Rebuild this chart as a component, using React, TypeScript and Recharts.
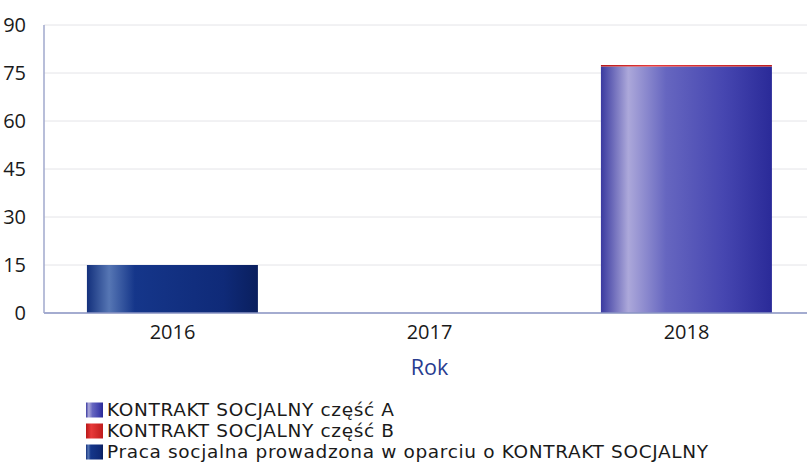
import React from "react";
import { BarChart, Bar, XAxis, YAxis, CartesianGrid, Legend } from "recharts";

const categories = ["2016", "2017", "2018"];
const kontraktA = [0, 0, 77];
const kontraktB = [0, 0, 0.5];
const praca = [15, 0, 0];
const yTicks = [0, 15, 30, 45, 60, 75, 90];

const seriesNames = [
  "KONTRAKT SOCJALNY część A",
  "KONTRAKT SOCJALNY część B",
  "Praca socjalna prowadzona w oparciu o KONTRAKT SOCJALNY",
];
const legendFills = ["url(#gradA)", "url(#gradB)", "url(#gradP)"];

const data = categories.map((c, i) => ({
  year: c,
  a: kontraktA[i],
  b: kontraktB[i],
  p: praca[i],
}));

const FONT = "'Open Sans', 'DejaVu Sans', sans-serif";
const LEGEND_FONT = "'DejaVu Sans', 'Open Sans', sans-serif";

const LegendContent = () => (
  <div style={{ fontFamily: LEGEND_FONT, fontSize: 18.5, letterSpacing: 0.65, color: "#1a1a1a", lineHeight: "21px", height: 67 }}>
    {seriesNames.map((n, i) => (
      <div key={n} style={{ display: "flex", alignItems: "center", height: 21, whiteSpace: "nowrap" }}>
        <svg width={17} height={16} style={{ marginRight: 4, flex: "none" }}>
          <rect x={0} y={0.5} width={17} height={15} fill={legendFills[i]} />
        </svg>
        <span>{n}</span>
      </div>
    ))}
  </div>
);

export default function App() {
  return (
    <div style={{ position: "absolute", left: 0, top: 0, width: 807, height: 466, background: "#fff", overflow: "hidden" }}>
      <BarChart
        width={815}
        height={466}
        data={data}
        margin={{ top: 25, right: 0, left: 0, bottom: 0 }}
        barCategoryGap="16.7%"
      >
        <defs>
          <linearGradient id="gradA" x1="0" y1="0" x2="1" y2="0">
            <stop offset="0%" stopColor="#3a3aa0" />
            <stop offset="16%" stopColor="#aca8da" />
            <stop offset="38%" stopColor="#6666c0" />
            <stop offset="72%" stopColor="#4646b0" />
            <stop offset="100%" stopColor="#2a2a98" />
          </linearGradient>
          <linearGradient id="gradB" x1="0" y1="0" x2="1" y2="0">
            <stop offset="0%" stopColor="#b81818" />
            <stop offset="30%" stopColor="#e83a3a" />
            <stop offset="100%" stopColor="#c01c1c" />
          </linearGradient>
          <linearGradient id="gradP" x1="0" y1="0" x2="1" y2="0">
            <stop offset="0%" stopColor="#13307c" />
            <stop offset="13%" stopColor="#5676b4" />
            <stop offset="28%" stopColor="#15368a" />
            <stop offset="80%" stopColor="#0f2a78" />
            <stop offset="100%" stopColor="#0a1f5e" />
          </linearGradient>
        </defs>
        <CartesianGrid vertical={false} stroke="#e4e4e8" />
        <XAxis
          dataKey="year"
          height={86}
          axisLine={{ stroke: "#8a94c4", strokeWidth: 1.5 }}
          tickLine={false}
          tick={{ fill: "#1a1a1a", fontSize: 20, fontFamily: FONT }}
          tickMargin={6}
          label={{ value: "Rok", position: "insideTop", offset: 47, fill: "#283c8f", fontSize: 21.5, fontFamily: FONT }}
        />
        <YAxis
          width={44}
          domain={[0, 90]}
          ticks={yTicks}
          interval={0}
          axisLine={{ stroke: "#a0a8cc", strokeWidth: 1.5 }}
          tickLine={false}
          tick={{ fill: "#1a1a1a", fontSize: 20, fontFamily: FONT }}
          tickMargin={12}
        />
        <Legend
          verticalAlign="bottom"
          layout="horizontal"
          align="left"
          content={<LegendContent />}
          wrapperStyle={{ left: 86, width: 700 }}
        />
        <Bar dataKey="a" name={seriesNames[0]} stackId="s" fill="url(#gradA)" isAnimationActive={false} />
        <Bar dataKey="b" name={seriesNames[1]} stackId="s" fill="url(#gradB)" isAnimationActive={false} />
        <Bar dataKey="p" name={seriesNames[2]} stackId="s" fill="url(#gradP)" isAnimationActive={false} />
      </BarChart>
    </div>
  );
}
